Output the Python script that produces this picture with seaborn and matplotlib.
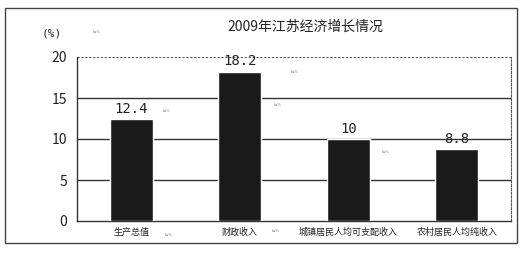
import matplotlib
matplotlib.use("Agg")
import matplotlib.pyplot as plt
import seaborn as sns
import pandas as pd
from matplotlib.patches import Rectangle

categories = ["生产总值", "财政收入", "城镇居民人均可支配收入", "农村居民人均纯收入"]
values = [12.4, 18.2, 10, 8.8]
value_labels = ["12.4", "18.2", "10", "8.8"]
yticks = [0, 5, 10, 15, 20]
title = "2009年江苏经济增长情况"
unit = "(%)"

sns.set_theme(style="white")
plt.rcParams['font.family'] = ['Noto Sans CJK SC', 'DejaVu Sans']

df = pd.DataFrame({"cat": categories, "val": values})

fig = plt.figure(figsize=(5.24, 2.57), dpi=100)
ax = fig.add_axes([77/524, 1 - 221/257, 434/524, 164/257])

sns.barplot(data=df, x="cat", y="val", color="#1a1a1a", width=0.4,
            saturation=1, ax=ax, zorder=3)
ax.set_ylim(0, 20)
ax.set_xlim(-0.5, 3.5)
ax.set_yticks(yticks)
ax.set_yticklabels([str(t) for t in yticks], fontsize=10, color="#222222")
ax.tick_params(axis='y', length=0, pad=7)
ax.tick_params(axis='x', length=0, pad=5)
ax.set_xticks(range(len(categories)))
ax.set_xticklabels(categories, fontsize=6.5, color="#222222")
ax.set_xlabel("")
ax.set_ylabel("")

for y in [5, 10, 15]:
    ax.axhline(y, color="#333333", lw=1.0, zorder=1)
ax.axhline(20, color="#555555", lw=0.8, ls=(0, (2, 1.5)), zorder=1)

for side in ["left", "bottom"]:
    ax.spines[side].set_color("#333333")
    ax.spines[side].set_linewidth(1.0)
ax.spines["top"].set_visible(False)
ax.spines["right"].set_color("#555555")
ax.spines["right"].set_linestyle((0, (2, 1.5)))
ax.spines["right"].set_linewidth(0.8)

for i, (v, lab) in enumerate(zip(values, value_labels)):
    ax.text(i, v + 0.4, lab, ha="center", va="bottom", fontsize=10,
            family="DejaVu Sans Mono", color="#222222", zorder=4)

fig.text(305/524, 1 - 27/257, title, ha="center", va="center", fontsize=10,
         color="#222222")
fig.text(52/524, 1 - 33/257, unit, ha="center", va="center", fontsize=8,
         color="#222222", family="DejaVu Sans Mono")

# small stray labels seen in the scan
for (x, y) in [(97, 32), (167, 111), (295, 72), (278, 105), (386, 152),
               (169, 235), (276, 231)]:
    fig.text(x / 524, 1 - y / 257, "ks%", fontsize=3, color="#777777",
             ha="center", va="center")

fig.patches.append(Rectangle((5/524, 1 - 243/257), 512/524, 235/257,
                             transform=fig.transFigure, fill=False,
                             edgecolor="#444444", lw=1.0))

fig.savefig("out.png", dpi=100)
